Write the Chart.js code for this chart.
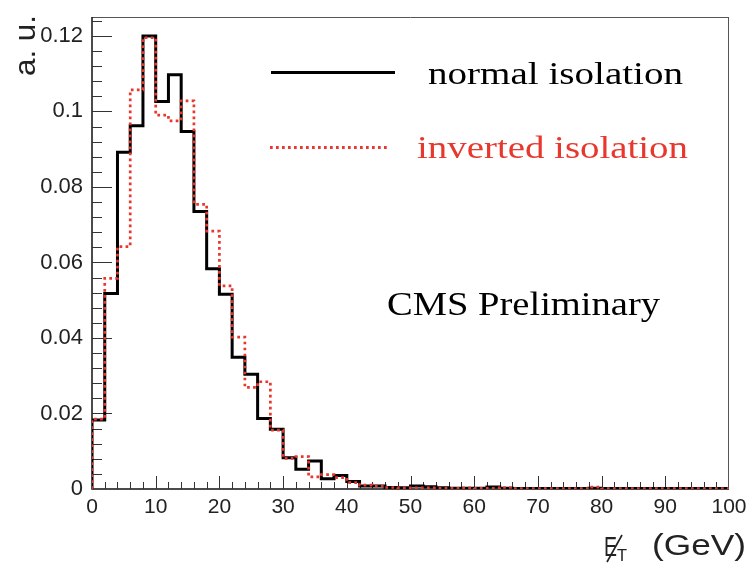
<!DOCTYPE html>
<html>
<head>
<meta charset="utf-8">
<script src="https://cdn.jsdelivr.net/npm/chart.js@4.4.0/dist/chart.umd.min.js"></script>
<style>
  html, body { margin: 0; padding: 0; background: #fff; }
</style>
</head>
<body>
<canvas id="chart" width="755" height="565"></canvas>
<script>
// histogram bins, 2 GeV wide
const binEdges = [0, 2, 4, 6, 8, 10, 12, 14, 16, 18, 20, 22, 24, 26, 28, 30, 32, 34, 36, 38, 40,
    42, 44, 46, 48, 50, 52, 54, 56, 58, 60, 62, 64, 66, 68, 70, 72, 74, 76, 78, 80,
    82, 84, 86, 88, 90, 92, 94, 96, 98, 100]

const normalIso = [0.0183, 0.0518, 0.0892, 0.0962, 0.1200, 0.1026, 0.1097, 0.0947, 0.0735, 0.0583,
    0.0516, 0.0349, 0.0304, 0.0187, 0.0158, 0.0083, 0.0052, 0.0074, 0.0027, 0.0036,
    0.0020, 0.0008, 0.0008, 0.0004, 0.0003, 0.0008, 0.0006, 0.0003, 0.0002, 0.0002,
    0.0002, 0.0005, 0.0002, 0.0001, 0.0001, 0.0001, 0.0001, 0.0001, 0.0001, 0.0002,
    0.0001, 0.0001, 0.0001, 0.0001, 0.0001, 0.0001, 0.0001, 0.0001, 0.0001, 0.0001]

const invertedIso = [0.0185, 0.0558, 0.0642, 0.1057, 0.1195, 0.0990, 0.0975, 0.1028, 0.0754, 0.0683,
    0.0538, 0.0402, 0.0269, 0.0284, 0.0156, 0.0081, 0.0086, 0.0032, 0.0038, 0.0030,
    0.0017, 0.0010, 0.0008, 0.0004, 0.0003, 0.0003, 0.0003, 0.0002, 0.0002, 0.0003,
    0.0002, 0.0002, 0.0004, 0.0001, 0.0001, 0.0001, 0.0001, 0.0001, 0.0001, 0.0005,
    0.0001, 0.0001, 0.0001, 0.0001, 0.0001, 0.0001, 0.0001, 0.0001, 0.0001, 0.0001]

const xTicks = [0, 10, 20, 30, 40, 50, 60, 70, 80, 90, 100]
const yTicks = [0, 0.02, 0.04, 0.06, 0.08, 0.1, 0.12]

const RED = '#e8372c'
const SANS = '"Liberation Sans", Arial, sans-serif'
const SERIF = '"Liberation Serif", "Times New Roman", serif'

// step points: left edge of each bin, plus closing point at the last edge
function steps(values) {
    const pts = [{ x: binEdges[0], y: 0 }]
    values.forEach((v, i) => pts.push({ x: binEdges[i], y: v }))
    pts.push({ x: binEdges[binEdges.length - 1], y: values[values.length - 1] })
    return pts
}

// draw text squeezed/stretched to a given width
function fitText(ctx, text, x, y, width, font, color) {
    ctx.save()
    ctx.font = font
    ctx.fillStyle = color
    ctx.textBaseline = 'alphabetic'
    ctx.textAlign = 'left'
    const w = ctx.measureText(text).width
    ctx.translate(x, y)
    ctx.scale(width / w, 1)
    ctx.fillText(text, 0, 0)
    ctx.restore()
}

const rootAxes = {
    id: 'rootAxes',
    beforeDatasetsDraw(chart) {
        const { ctx, chartArea: a, scales: { x, y } } = chart
        ctx.save()
        // frame
        ctx.strokeStyle = '#555'
        ctx.lineWidth = 1
        ctx.beginPath()
        ctx.moveTo(a.left, a.top + 0.5); ctx.lineTo(a.right, a.top + 0.5)
        ctx.moveTo(a.right - 0.5, a.top); ctx.lineTo(a.right - 0.5, a.bottom)
        ctx.stroke()
        ctx.strokeStyle = '#111'
        ctx.lineWidth = 1.5
        ctx.beginPath()
        ctx.moveTo(a.left, a.top); ctx.lineTo(a.left, a.bottom); ctx.lineTo(a.right, a.bottom)
        ctx.stroke()
        // inward ticks
        ctx.strokeStyle = '#333'
        ctx.lineWidth = 1
        ctx.beginPath()
        for (let k = 1; k < 50; k++) {
            const px = Math.round(x.getPixelForValue(k * 2)) + 0.5
            const len = k % 5 === 0 ? 13 : 7
            ctx.moveTo(px, a.bottom); ctx.lineTo(px, a.bottom - len)
        }
        for (let k = 1; k <= 31; k++) {
            const py = Math.round(y.getPixelForValue(k * 0.004)) + 0.5
            const len = k % 5 === 0 ? 20 : 10
            ctx.moveTo(a.left, py); ctx.lineTo(a.left + len, py)
        }
        ctx.stroke()
        ctx.restore()
    },
    afterDraw(chart) {
        const ctx = chart.ctx
        ctx.save()
        // legend
        ctx.lineWidth = 3
        ctx.strokeStyle = '#000'
        ctx.beginPath(); ctx.moveTo(271, 72.5); ctx.lineTo(395, 72.5); ctx.stroke()
        ctx.strokeStyle = RED
        ctx.setLineDash([2.7, 3.3])
        ctx.beginPath(); ctx.moveTo(270, 147.5); ctx.lineTo(389, 147.5); ctx.stroke()
        ctx.setLineDash([])
        fitText(ctx, 'normal isolation', 428, 84, 255, '32px ' + SERIF, '#000')
        fitText(ctx, 'inverted isolation', 417, 158, 271, '32px ' + SERIF, RED)
        fitText(ctx, 'CMS Preliminary', 387, 315, 273, '34px ' + SERIF, '#000')

        // y title, rotated
        ctx.save()
        ctx.translate(35, 76)
        ctx.rotate(-Math.PI / 2)
        fitText(ctx, 'a. u.', 0, 0, 61, '30px ' + SANS, '#222')
        ctx.restore()

        // x title: missing E_T (GeV)
        fitText(ctx, 'E', 604, 556, 13, '28px ' + SANS, '#222')
        ctx.strokeStyle = '#222'
        ctx.lineWidth = 1.6
        ctx.beginPath(); ctx.moveTo(607, 562); ctx.lineTo(622, 535); ctx.stroke()
        fitText(ctx, 'T', 617, 561, 10, '17px ' + SANS, '#222')
        fitText(ctx, '(GeV)', 652, 555, 94, '30px ' + SANS, '#222')
        ctx.restore()
    }
}

new Chart(document.getElementById('chart'), {
    type: 'line',
    data: {
        datasets: [{
            label: 'normal isolation',
            data: steps(normalIso),
            borderColor: '#000',
            borderWidth: 3,
            stepped: true,
            pointRadius: 0,
            order: 1
        }, {
            label: 'inverted isolation',
            data: steps(invertedIso),
            borderColor: RED,
            borderWidth: 2.7,
            borderDash: [2.7, 3.3],
            stepped: true,
            pointRadius: 0,
            order: 0
        }]
    },
    options: {
        responsive: false,
        animation: false,
        layout: { padding: { top: 17, right: 26, left: 0, bottom: 0 } },
        plugins: { legend: { display: false }, tooltip: { enabled: false } },
        scales: {
            x: {
                type: 'linear',
                min: 0,
                max: 100,
                grid: { display: false, drawTicks: false },
                border: { display: false },
                afterBuildTicks: s => { s.ticks = xTicks.map(v => ({ value: v })) },
                afterFit: s => { s.height = 76; s.paddingLeft = 0; s.paddingRight = 0 },
                ticks: {
                    padding: 6,
                    maxRotation: 0,
                    color: '#222',
                    font: { family: SANS, size: 21 },
                    callback: v => String(v)
                }
            },
            y: {
                min: 0,
                max: 0.125,
                grid: { display: false, drawTicks: false },
                border: { display: false },
                afterBuildTicks: s => { s.ticks = yTicks.map(v => ({ value: v })) },
                afterFit: s => { s.width = 92; s.paddingTop = 0; s.paddingBottom = 0 },
                ticks: {
                    padding: 9,
                    color: '#222',
                    font: { family: SANS, size: 22 },
                    callback: v => String(+v.toFixed(3))
                }
            }
        }
    },
    plugins: [rootAxes]
})
</script>
</body>
</html>
